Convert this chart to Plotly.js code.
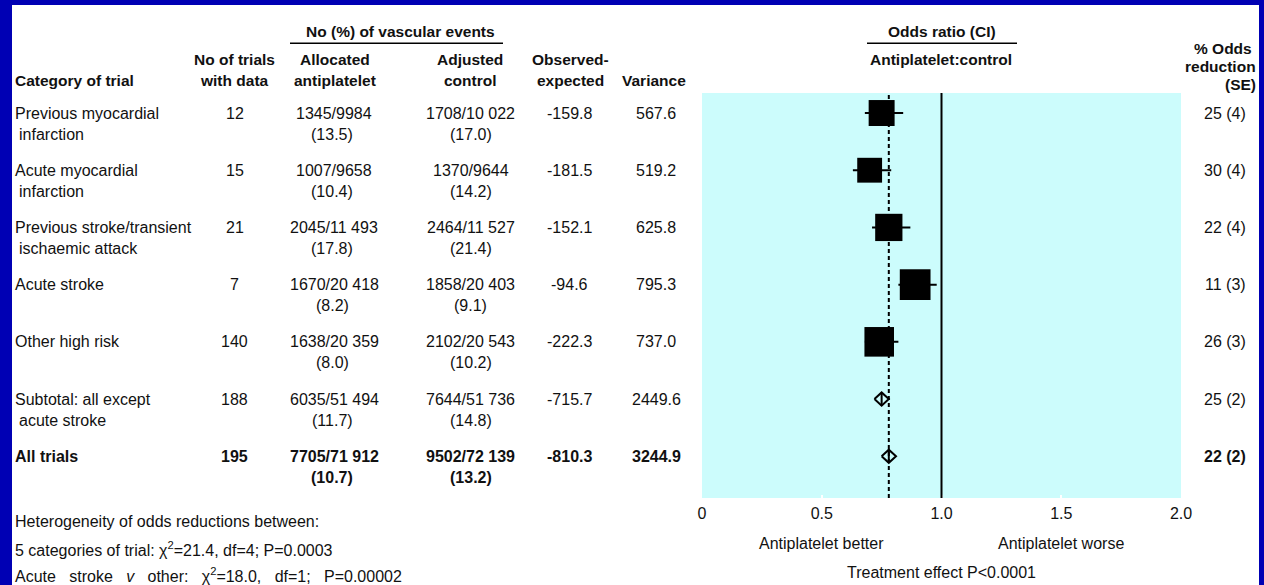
<!DOCTYPE html>
<html><head><meta charset="utf-8">
<script src="https://cdn.plot.ly/plotly-3.0.1.min.js"></script>
<style>
html,body{margin:0;padding:0;background:#0000b4;width:1264px;height:585px;overflow:hidden}
#chart{position:absolute;left:12px;top:5px;width:1247px;height:580px;background:#fff}
</style></head><body><div id="chart"></div>
<script>
// ---- data ----
const categories = ["Previous myocardial<br>infarction", "Acute myocardial<br>infarction",
  "Previous stroke/transient<br>ischaemic attack", "Acute stroke", "Other high risk",
  "Subtotal: all except<br>acute stroke", "All trials"];
const nTrials = [12, 15, 21, 7, 140, 188, 195];
const antiEvents = ["1345/9984", "1007/9658", "2045/11 493", "1670/20 418", "1638/20 359", "6035/51 494", "7705/71 912"];
const antiPct = [13.5, 10.4, 17.8, 8.2, 8.0, 11.7, 10.7];
const ctrlEvents = ["1708/10 022", "1370/9644", "2464/11 527", "1858/20 403", "2102/20 543", "7644/51 736", "9502/72 139"];
const ctrlPct = [17.0, 14.2, 21.4, 9.1, 10.2, 14.8, 13.2];
const obsExp = [-159.8, -181.5, -152.1, -94.6, -222.3, -715.7, -810.3];
const variance = [567.6, 519.2, 625.8, 795.3, 737.0, 2449.6, 3244.9];
const oddsRed = [25, 30, 22, 11, 26, 25, 22];
const oddsRedSE = [4, 4, 4, 3, 3, 2, 2];
const orEst = [0.75, 0.70, 0.78, 0.89, 0.74, 0.75, 0.78];
const orLow = [0.68, 0.63, 0.71, 0.82, 0.68, 0.72, 0.75];
const orHigh = [0.84, 0.79, 0.87, 0.98, 0.82, 0.78, 0.81];
const isSummary = [false, false, false, false, false, true, true];
const xTickVals = [0, 0.5, 1, 1.5, 2];
const xTickText = ["0", "0.5", "1.0", "1.5", "2.0"];

// ---- geometry helpers (page pixels -> paper fractions) ----
const FIG_X = 12, FIG_Y = 5;
const M = {l: 690, r: 78, t: 88, b: 87};
const W = 1247, H = 580;
const PW = W - M.l - M.r, PH = H - M.t - M.b;
const PX = ax => (ax - FIG_X - M.l) / PW;
const PY = ay => (H - M.b - (ay - FIG_Y)) / PH;

const FONT = "'Liberation Sans', Arial, Helvetica, sans-serif";
const FS = 16;
const HFS = 15.5;
const LINE2 = -21;

const annotations = [];
function A(text, x, y, o) {
  const size = (o && o.size) || FS;
  const opts = Object.assign({}, o || {});
  delete opts.size;
  annotations.push(Object.assign({text, x, y, xref: 'paper', yref: 'paper', showarrow: false,
    xanchor: 'center', yanchor: 'middle', font: {family: FONT, size, color: '#111'}}, opts));
}
const Hd = (t, x, y, o) => A('<b>' + t + '</b>', x, y, Object.assign({size: HFS}, o || {}));

// headers
Hd('No (%) of vascular events', PX(400), PY(31));
Hd('No of trials', PX(234), PY(59));
Hd('with data', PX(234), PY(80));
Hd('Allocated', PX(335), PY(59));
Hd('antiplatelet', PX(335), PY(80));
Hd('Adjusted', PX(470), PY(59));
Hd('control', PX(470), PY(80));
Hd('Observed-', PX(570), PY(59));
Hd('expected', PX(570), PY(80));
Hd('Variance', PX(654), PY(80));
Hd('Category of trial', PX(13), PY(81), {xanchor: 'left'});
Hd('Odds ratio (CI)', PX(942), PY(31));
Hd('Antiplatelet:control', PX(941), PY(59));
Hd('% Odds', PX(1223), PY(49));
Hd('reduction', PX(1258), PY(66), {xanchor: 'right'});
Hd('(SE)', PX(1240), PY(84));

// table rows
categories.forEach((cat, i) => {
  const b = s => (i === categories.length - 1) ? '<b>' + s + '</b>' : s;
  const ry = {yref: 'y'};
  const parts = cat.split('<br>');
  A(b(parts[0]), PX(13), i, Object.assign({xanchor: 'left'}, ry));
  if (parts[1]) A(b(parts[1]), PX(13), i, Object.assign({xanchor: 'left', yshift: LINE2, xshift: 4}, ry));
  A(b(String(nTrials[i])), PX(234.5), i, ry);
  A(b(antiEvents[i]), PX(334), i, ry);
  A(b('(' + antiPct[i].toFixed(1) + ')'), PX(332), i, Object.assign({yshift: LINE2}, ry));
  A(b(ctrlEvents[i]), PX(470.5), i, ry);
  A(b('(' + ctrlPct[i].toFixed(1) + ')'), PX(470.5), i, Object.assign({yshift: LINE2}, ry));
  A(b(obsExp[i].toFixed(1)), PX(569.5), i, ry);
  A(b(variance[i].toFixed(1)), PX(656), i, ry);
  A(b(oddsRed[i] + ' (' + oddsRedSE[i] + ')'), PX(1248), i, Object.assign({xanchor: 'right'}, ry));
});

// axis side labels and footnotes
A('Antiplatelet better', PX(821), PY(543));
A('Antiplatelet worse', PX(1061), PY(543));
A('Treatment effect P&lt;0.0001', PX(941), PY(572));
A('Heterogeneity of odds reductions between:', PX(13), PY(521), {xanchor: 'left'});
A('5 categories of trial: χ<sup>2</sup>=21.4, df=4; P=0.0003', PX(13), PY(549), {xanchor: 'left'});
const sp = '&nbsp;&nbsp;&nbsp;';
A(['Acute', 'stroke', '<i>v</i>', 'other:', 'χ<sup>2</sup>=18.0,', 'df=1;', 'P=0.00002'].join(sp),
  PX(13), PY(575), {xanchor: 'left'});

// ---- traces ----
const idxSq = [], idxDm = [];
isSummary.forEach((s, i) => (s ? idxDm : idxSq).push(i));

const squares = {
  type: 'scatter', mode: 'markers',
  x: idxSq.map(i => orEst[i]), y: idxSq,
  marker: {symbol: 'square', color: '#000', opacity: 1,
    size: idxSq.map(i => 1.09 * Math.sqrt(variance[i])), line: {width: 0}},
  error_x: {type: 'data', symmetric: false,
    array: idxSq.map(i => orHigh[i] - orEst[i]),
    arrayminus: idxSq.map(i => orEst[i] - orLow[i]),
    color: '#000', thickness: 2, width: 0},
  hoverinfo: 'skip', showlegend: false
};

const DH = 0.115;
const dx = [], dy = [];
idxDm.forEach(i => {
  dx.push(orLow[i], orEst[i], orHigh[i], orEst[i], orLow[i], null, orEst[i], orEst[i], null);
  dy.push(i, i - DH, i, i + DH, i, null, i - DH, i + DH, null);
});
const diamonds = {
  type: 'scatter', mode: 'lines', x: dx, y: dy,
  line: {color: '#000', width: 2}, hoverinfo: 'skip', showlegend: false
};

const overall = orEst[orEst.length - 1];
const layout = {
  width: W, height: H,
  margin: M,
  paper_bgcolor: '#ffffff',
  plot_bgcolor: '#ccfcfc',
  font: {family: FONT, size: FS, color: '#111'},
  showlegend: false,
  hovermode: false,
  xaxis: {range: [0, 2], tickvals: xTickVals, ticktext: xTickText,
    showgrid: false, zeroline: false, showline: false,
    ticks: 'inside', ticklen: 3, tickwidth: 2, tickcolor: '#ffffff',
    ticklabelstandoff: 4,
    tickfont: {family: FONT, size: 16, color: '#111'}, fixedrange: true},
  yaxis: {range: [6.73, -0.35], showgrid: false, zeroline: false, showline: false,
    showticklabels: false, ticks: '', fixedrange: true},
  shapes: [
    {type: 'line', xref: 'x', yref: 'paper', x0: 1, x1: 1, y0: 0, y1: 1, line: {color: '#000', width: 2}},
    {type: 'line', xref: 'x', yref: 'paper', x0: overall, x1: overall, y0: 0, y1: 1, line: {color: '#000', width: 2, dash: '4px,3px'}},
    {type: 'line', xref: 'paper', yref: 'paper', x0: PX(290), x1: PX(503), y0: PY(43.3), y1: PY(43.3), line: {color: '#000', width: 1.5}},
    {type: 'line', xref: 'paper', yref: 'paper', x0: PX(867), x1: PX(1017), y0: PY(43.3), y1: PY(43.3), line: {color: '#000', width: 1.5}}
  ],
  annotations
};

Plotly.newPlot('chart', [squares, diamonds], layout, {displayModeBar: false, staticPlot: true});
</script></body></html>
